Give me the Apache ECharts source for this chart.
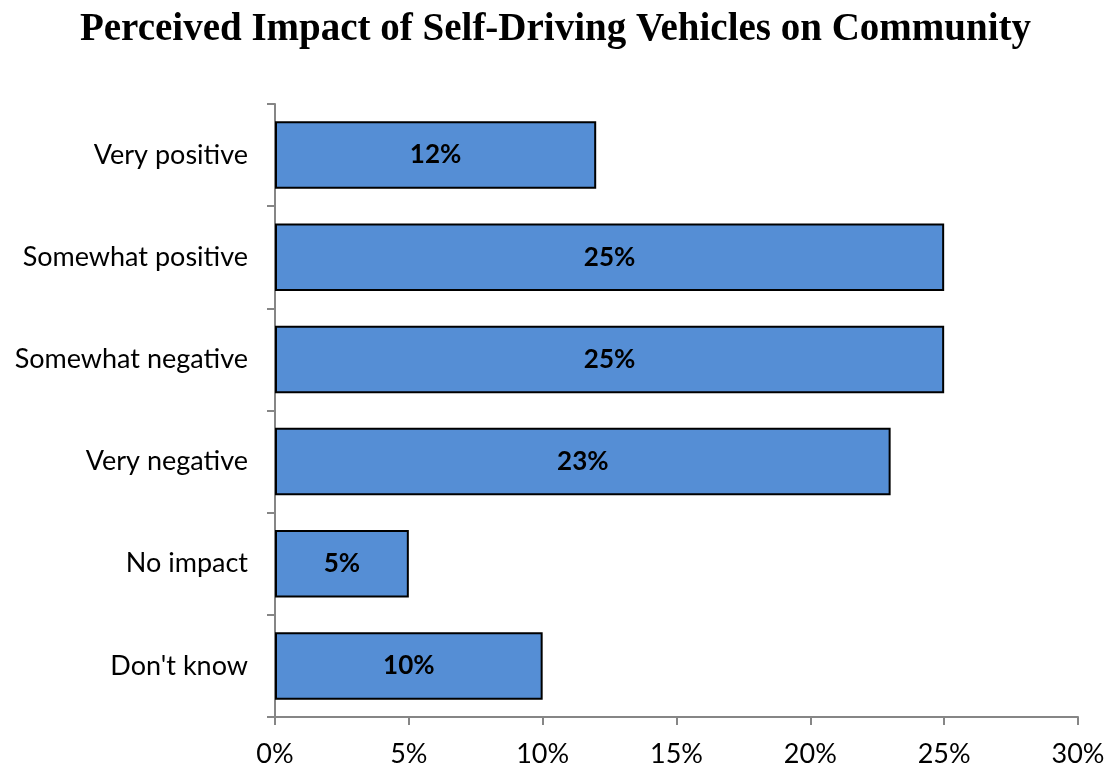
<!DOCTYPE html>
<html>
<head>
<meta charset="utf-8">
<script src="https://cdn.jsdelivr.net/npm/echarts@6/dist/echarts.min.js"></script>
<style>
  html, body { margin: 0; padding: 0; background: #fff; }
  #chart { width: 1111px; height: 770px; }
</style>
</head>
<body>
<div id="chart"></div>
<script>
// Survey responses, listed top to bottom
const categories = ['Very positive', 'Somewhat positive', 'Somewhat negative', 'Very negative', 'No impact', "Don't know"];
const shares = [12, 25, 25, 23, 5, 10];
const axisTicks = [0, 5, 10, 15, 20, 25, 30];

const chart = echarts.init(document.getElementById('chart'), null, { renderer: 'canvas' });
const bodyFont = 'Lato, "Open Sans", sans-serif';

chart.setOption({
  animation: false,
  title: {
    text: 'Perceived Impact of Self-Driving Vehicles on Community',
    left: 'center',
    top: 5,
    textStyle: {
      fontFamily: '"Liberation Serif", serif',
      fontWeight: 'bold',
      fontSize: 39,
      color: '#000'
    }
  },
  grid: { left: 275, right: 33, top: 104, bottom: 53, containLabel: false },
  xAxis: {
    type: 'value',
    min: axisTicks[0],
    max: axisTicks[axisTicks.length - 1],
    interval: axisTicks[1] - axisTicks[0],
    axisLine: { show: true, lineStyle: { color: '#868686', width: 2 } },
    axisTick: { show: true, length: 8, lineStyle: { color: '#868686', width: 2 } },
    splitLine: { show: false },
    axisLabel: {
      formatter: '{value}%',
      color: '#000',
      fontFamily: bodyFont,
      fontSize: 27,
      margin: 24
    }
  },
  yAxis: {
    type: 'category',
    data: categories,
    inverse: true,
    axisLine: { show: true, lineStyle: { color: '#868686', width: 2 } },
    axisTick: { show: true, length: 8, lineStyle: { color: '#868686', width: 2 } },
    axisLabel: {
      color: '#000',
      fontFamily: bodyFont,
      fontSize: 27,
      margin: 27
    }
  },
  series: [{
    type: 'bar',
    data: shares,
    barCategoryGap: '34%',
    itemStyle: { color: '#558ED5', borderColor: '#000', borderWidth: 2 },
    label: {
      show: true,
      position: 'inside',
      formatter: p => p.value + '%',
      color: '#000',
      fontFamily: bodyFont,
      fontWeight: 'bold',
      fontSize: 26
    }
  }]
});
</script>
</body>
</html>
